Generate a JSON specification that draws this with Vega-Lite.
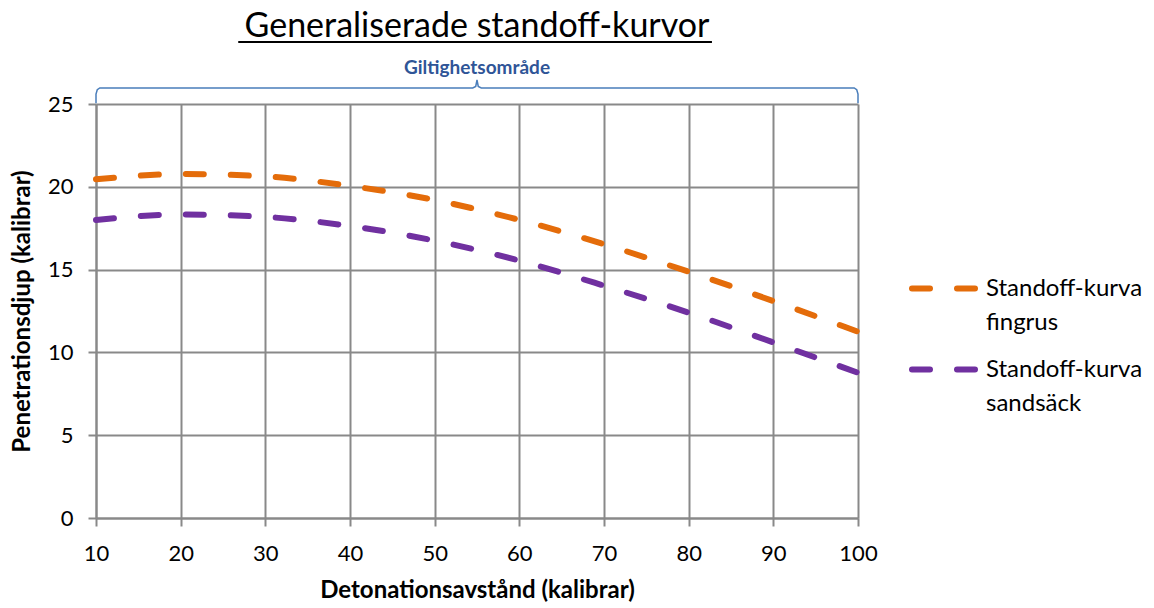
{
  "$schema": "https://vega.github.io/schema/vega-lite/v6.json",
  "width": 762,
  "height": 414,
  "autosize": "none",
  "padding": {"left": 96, "top": 104, "right": 296, "bottom": 90},
  "background": "white",
  "config": {
    "view": {"stroke": null},
    "font": "Lato",
    "axis": {
      "gridColor": "#898989", "gridWidth": 2, "gridOpacity": 1,
      "domainColor": "#898989", "domainWidth": 2,
      "tickColor": "#898989", "tickWidth": 2, "tickSize": 8,
      "labelFont": "Lato", "labelFontSize": 22, "labelColor": "#000000",
      "titleFont": "Lato", "titleFontSize": 24, "titleFontWeight": "bold", "titleColor": "#000000"
    }
  },
  "datasets": {
    "kurvor": [
      {"serie": "Standoff-kurva fingrus", "avstand": 10, "djup": 20.45},
      {"serie": "Standoff-kurva fingrus", "avstand": 20, "djup": 20.77},
      {"serie": "Standoff-kurva fingrus", "avstand": 30, "djup": 20.63},
      {"serie": "Standoff-kurva fingrus", "avstand": 40, "djup": 20.05},
      {"serie": "Standoff-kurva fingrus", "avstand": 50, "djup": 19.2},
      {"serie": "Standoff-kurva fingrus", "avstand": 60, "djup": 18.0},
      {"serie": "Standoff-kurva fingrus", "avstand": 70, "djup": 16.53},
      {"serie": "Standoff-kurva fingrus", "avstand": 80, "djup": 14.87},
      {"serie": "Standoff-kurva fingrus", "avstand": 90, "djup": 13.1},
      {"serie": "Standoff-kurva fingrus", "avstand": 100, "djup": 11.25},
      {"serie": "Standoff-kurva sandsäck", "avstand": 10, "djup": 18.0},
      {"serie": "Standoff-kurva sandsäck", "avstand": 20, "djup": 18.33},
      {"serie": "Standoff-kurva sandsäck", "avstand": 30, "djup": 18.18},
      {"serie": "Standoff-kurva sandsäck", "avstand": 40, "djup": 17.63},
      {"serie": "Standoff-kurva sandsäck", "avstand": 50, "djup": 16.75},
      {"serie": "Standoff-kurva sandsäck", "avstand": 60, "djup": 15.54},
      {"serie": "Standoff-kurva sandsäck", "avstand": 70, "djup": 14.03},
      {"serie": "Standoff-kurva sandsäck", "avstand": 80, "djup": 12.4},
      {"serie": "Standoff-kurva sandsäck", "avstand": 90, "djup": 10.6},
      {"serie": "Standoff-kurva sandsäck", "avstand": 100, "djup": 8.77}
    ],
    "klammer": [
      {"i": 1, "bx": 10, "by": 25.05},
      {"i": 2, "bx": 10, "by": 25.6},
      {"i": 3, "bx": 10.15, "by": 25.86},
      {"i": 4, "bx": 10.45, "by": 25.97},
      {"i": 5, "bx": 54.5, "by": 25.97},
      {"i": 6, "bx": 54.85, "by": 26.06},
      {"i": 7, "bx": 55, "by": 26.45},
      {"i": 8, "bx": 55.15, "by": 26.06},
      {"i": 9, "bx": 55.5, "by": 25.97},
      {"i": 10, "bx": 99.55, "by": 25.97},
      {"i": 11, "bx": 99.85, "by": 25.86},
      {"i": 12, "bx": 100, "by": 25.6},
      {"i": 13, "bx": 100, "by": 25.05}
    ]
  },
  "layer": [
    {
      "data": {"name": "kurvor"},
      "mark": {"type": "line", "interpolate": "monotone", "strokeWidth": 6, "strokeDash": [18, 27], "strokeCap": "round", "clip": false},
      "encoding": {
        "x": {
          "field": "avstand", "type": "quantitative",
          "title": "Detonationsavstånd (kalibrar)",
          "scale": {"domain": [10, 100], "nice": false, "zero": false},
          "axis": {
            "values": [10, 20, 30, 40, 50, 60, 70, 80, 90, 100],
            "labelPadding": 17, "labelFlush": false,
            "titleY": 72, "titleBaseline": "middle"
          }
        },
        "y": {
          "field": "djup", "type": "quantitative",
          "title": "Penetrationsdjup (kalibrar)",
          "scale": {"domain": [0, 25], "nice": false},
          "axis": {
            "values": [0, 5, 10, 15, 20, 25],
            "labelPadding": 15,
            "titleX": -74, "titleY": 207, "titleAngle": -90,
            "titleBaseline": "middle", "titleAlign": "center"
          }
        },
        "color": {
          "field": "serie", "type": "nominal",
          "scale": {
            "domain": ["Standoff-kurva fingrus", "Standoff-kurva sandsäck"],
            "range": ["#E46C0A", "#7030A0"]
          },
          "legend": {
            "title": null,
            "orient": "none",
            "legendX": 813,
            "legendY": 150,
            "padding": 0,
            "symbolType": "stroke",
            "symbolSize": 3969,
            "symbolStrokeWidth": 6,
            "symbolDash": [18, 27],
            "labelFont": "Lato",
            "labelFontSize": 24,
            "labelColor": "#000000",
            "labelLimit": 0,
            "labelOffset": 8,
            "labelBaseline": "middle",
            "rowPadding": 0,
            "labelExpr": "split(datum.label, ' ')",
            "encode": {
              "symbols": {"update": {"strokeCap": {"value": "round"}}},
              "labels": {"update": {"lineHeight": {"value": 34}}}
            }
          }
        }
      }
    },
    {
      "data": {"name": "klammer"},
      "mark": {"type": "line", "stroke": "#4A7EBB", "strokeWidth": 1.5, "clip": false},
      "encoding": {
        "x": {"field": "bx", "type": "quantitative", "title": "Detonationsavstånd (kalibrar)", "scale": {"domain": [10, 100], "nice": false, "zero": false}},
        "y": {"field": "by", "type": "quantitative", "title": "Penetrationsdjup (kalibrar)", "scale": {"domain": [0, 25], "nice": false}},
        "order": {"field": "i", "type": "quantitative"}
      }
    },
    {
      "data": {"values": [{}]},
      "mark": {"type": "text", "text": "Giltighetsområde", "font": "Lato", "fontSize": 19, "fontWeight": "bold", "color": "#2F5597", "baseline": "middle", "align": "center", "clip": false},
      "encoding": {
        "x": {"datum": 55, "type": "quantitative"},
        "y": {"datum": 27.2, "type": "quantitative"}
      }
    },
    {
      "data": {"values": [{}]},
      "mark": {"type": "text", "text": "Generaliserade standoff-kurvor", "font": "Lato", "fontSize": 34, "color": "#000000", "baseline": "middle", "align": "center", "clip": false},
      "encoding": {
        "x": {"datum": 55, "type": "quantitative"},
        "y": {"datum": 29.62, "type": "quantitative"}
      }
    },
    {
      "data": {"values": [{}]},
      "mark": {"type": "rule", "color": "#000000", "strokeWidth": 2, "clip": false},
      "encoding": {
        "x": {"datum": 26.8, "type": "quantitative"},
        "x2": {"datum": 82.75},
        "y": {"datum": 28.74, "type": "quantitative"}
      }
    }
  ]
}
